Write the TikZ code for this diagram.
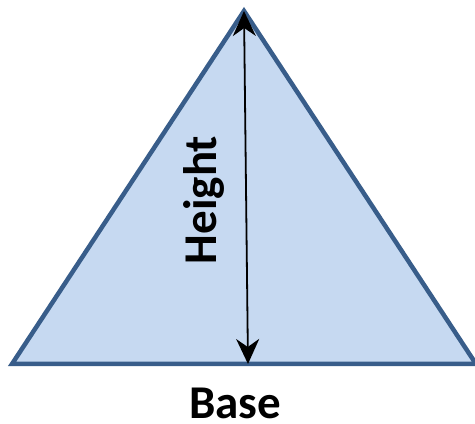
\documentclass[tikz,border=0pt]{standalone}
\usepackage{fontspec}
\setmainfont{Carlito}
\usepackage{tikz}
\usetikzlibrary{arrows.meta, positioning}
\definecolor{edgeblue}{HTML}{385D8A}
\definecolor{fillblue}{HTML}{C6D9F1}

\begin{document}
\begin{tikzpicture}[
    x=1pt, y=1pt,
    tri/.style={draw=edgeblue, fill=fillblue, line width=4.5pt, line join=miter},
    ht/.style={{Stealth[length=25pt, width=23pt, inset=8pt]}-{Stealth[length=25pt, width=23pt, inset=8pt]}, line width=1.8pt},
    lbl/.style={font=\bfseries\fontsize{47}{52}\selectfont, inner sep=0pt}
]
\useasboundingbox (0,0) rectangle (475,424);
\coordinate (apex) at (244,413);
\coordinate (left) at (12,60);
\coordinate (right) at (476,60);
\coordinate (foot) at (248,60);
\draw[tri] (left) -- (apex) -- (right) -- cycle;
\draw[ht] (apex) -- (foot);
\node[lbl, rotate=90] (height) at (204,224) {Height};
\node[lbl] (base) at (235,21) {Base};
\end{tikzpicture}
\end{document}
